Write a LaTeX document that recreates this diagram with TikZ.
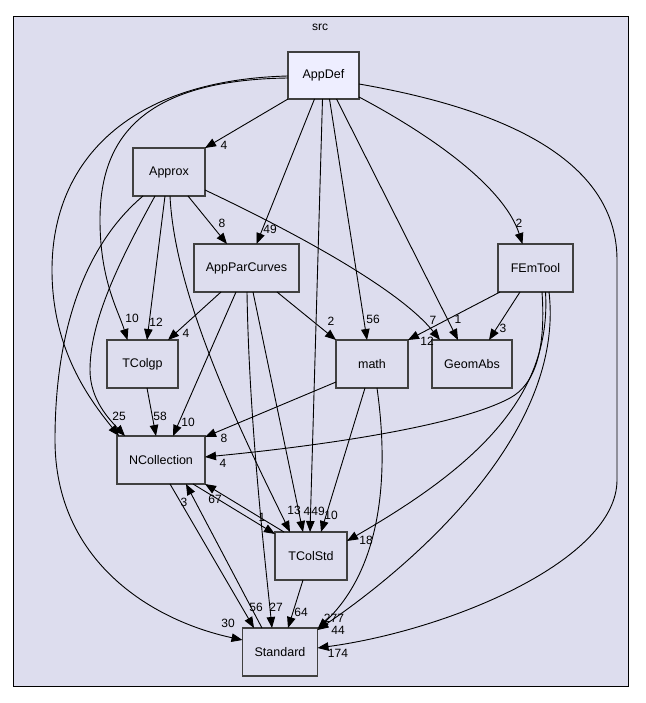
\documentclass[tikz,border=0pt]{standalone}
\usepackage{fontspec}
\setmainfont{Liberation Sans}
\usetikzlibrary{arrows.meta}
\definecolor{clusterbg}{HTML}{DDDDEE}
\definecolor{mainbg}{HTML}{EEEEFF}
\definecolor{boxline}{HTML}{404040}

\begin{document}
\begin{tikzpicture}[x=1pt, y=-1pt,
  dirbox/.style={rectangle, draw=boxline, line width=1.6pt, fill=clusterbg, minimum height=48pt, inner sep=0pt, outer sep=0pt, font=\fontsize{12.5}{15}\selectfont},
  dep/.style={draw=black, line width=0.9pt, -{Triangle[length=11pt,width=8.5pt]}},
  lbl/.style={inner sep=0pt, font=\fontsize{12}{13}\selectfont}]
\useasboundingbox[fill=white] (0,0) rectangle (645,703);
\draw[fill=clusterbg, draw=black, line width=0.8pt] (13.5,16.5) rectangle (628.5,686.5);
\node[lbl] (srclbl) at (320,27) {src};

\node[dirbox, fill=mainbg, minimum width=71pt, minimum height=47pt] (AppDef) at (323.5,75.5) {AppDef};
\node[dirbox, minimum width=72pt] (Approx) at (169,172) {Approx};
\node[dirbox, minimum width=105pt] (AppParCurves) at (246.5,268) {AppParCurves};
\node[dirbox, minimum width=75pt] (FEmTool) at (535.5,268) {FEmTool};
\node[dirbox, minimum width=71pt] (TColgp) at (142.5,364) {TColgp};
\node[dirbox, minimum width=72pt] (math) at (372,364) {math};
\node[dirbox, minimum width=80pt] (GeomAbs) at (472,364) {GeomAbs};
\node[dirbox, minimum width=88pt] (NCollection) at (161,460) {NCollection};
\node[dirbox, minimum width=72pt] (TColStd) at (311,556) {TColStd};
\node[dirbox, minimum width=75pt] (Standard) at (280,652) {Standard};

\draw[dep] (AppDef.south west) -- (Approx.north east) node[lbl] (AppDef-Approx) at (224,145) {4};
\draw[dep] ([xshift=-9]AppDef.south) -- ([xshift=10]AppParCurves.north) node[lbl] (AppDef-AppParCurves) at (270,229) {49};
\draw[dep] ([xshift=-1]AppDef.south) -- ([xshift=-1]TColStd.north) node[lbl] (AppDef-TColStd) at (318,511) {49};
\draw[dep] ([xshift=6]AppDef.south) -- ([xshift=-5]math.north) node[lbl] (AppDef-math) at (373,319) {56};
\draw[dep] ([xshift=13]AppDef.south) -- ([xshift=-14]GeomAbs.north) node[lbl] (AppDef-GeomAbs) at (458,319) {1};
\draw[dep] ([yshift=2]AppDef.south east) .. controls (440,140) and (505,190) .. ([xshift=-13]FEmTool.north) node[lbl] (AppDef-FEmTool) at (519,223) {2};
\draw[dep] ([yshift=-8.5]AppDef.east) .. controls (480,105) and (617,150) .. (617,260) -- (617,480) .. controls (617,560) and (450,630) .. ([yshift=4]Standard.east) node[lbl] (AppDef-Standard) at (338,653) {174};
\draw[dep] ([yshift=-2.5]AppDef.west) .. controls (140,80) and (100,140) .. (100,220) .. controls (100,280) and (118,310) .. ([xshift=-15]TColgp.north) node[lbl] (AppDef-TColgp) at (132,318) {10};
\draw[dep] ([yshift=-0.5]AppDef.west) .. controls (130,80) and (52,160) .. (52,270) .. controls (52,350) and (90,400) .. ([xshift=-42]NCollection.north) node[lbl] (AppDef-NCollection) at (119,416) {25};

\draw[dep] ([xshift=-26]Approx.south) .. controls (85,245) and (55,330) .. (55,440) .. controls (55,560) and (150,620) .. ([yshift=12]Standard.west) node[lbl] (Approx-Standard) at (228,623) {30};
\draw[dep] ([xshift=-14]Approx.south) .. controls (120,260) and (90,320) .. (90,370) .. controls (90,400) and (110,420) .. ([xshift=-36]NCollection.north);
\draw[dep] ([xshift=-4]Approx.south) -- ([xshift=4.5]TColgp.north) node[lbl] (Approx-TColgp) at (156,322) {12};
\draw[dep] ([xshift=1]Approx.south) .. controls (175,300) and (245,440) .. ([xshift=-21]TColStd.north) node[lbl] (Approx-TColStd) at (294,510) {13};
\draw[dep] ([xshift=19]Approx.south) -- ([xshift=-19.5]AppParCurves.north) node[lbl] (Approx-AppParCurves) at (222,223) {8};
\draw[dep] ([yshift=-18]Approx.east) .. controls (300,235) and (400,290) .. ([xshift=-32]GeomAbs.north) node[lbl] (Approx-GeomAbs) at (433,320) {7};

\draw[dep] ([xshift=-25.5]AppParCurves.south) -- ([xshift=25.5]TColgp.north) node[lbl] (AppParCurves-TColgp) at (186,333) {4};
\draw[dep] ([xshift=-10.5]AppParCurves.south) -- ([xshift=12]NCollection.north) node[lbl] (AppParCurves-NCollection) at (188,422) {10};
\draw[dep] ([xshift=0.5]AppParCurves.south) .. controls (249,420) and (265,560) .. ([xshift=-8]Standard.north) node[lbl] (AppParCurves-Standard) at (276,607) {27};
\draw[dep] ([xshift=6.5]AppParCurves.south) -- ([xshift=-8]TColStd.north) node[lbl] (AppParCurves-TColStd) at (307,511) {4};
\draw[dep] ([xshift=30.5]AppParCurves.south) -- (math.north west) node[lbl] (AppParCurves-math) at (331,321) {2};

\draw[dep] ([xshift=2]FEmTool.south west) -- (math.north east) node[lbl] (FEmTool-math) at (427,341) {12};
\draw[dep] ([xshift=-15.5]FEmTool.south) -- ([xshift=17]GeomAbs.north) node[lbl] (FEmTool-GeomAbs) at (503,328) {3};
\draw[dep] ([xshift=6.5]FEmTool.south) .. controls (546,350) and (535,384.5) .. (510,398) .. controls (460,425) and (330,445) .. ([yshift=3]NCollection.east) node[lbl] (FEmTool-NCollection) at (223,463) {4};
\draw[dep] ([xshift=10]FEmTool.south) .. controls (552,400) and (470,470) .. ([yshift=15]TColStd.east) node[lbl] (FEmTool-TColStd) at (366,540) {18};
\draw[dep] ([xshift=13.5]FEmTool.south) .. controls (565,430) and (420,560) .. ([yshift=-2]Standard.north east) node[lbl] (FEmTool-Standard) at (338,630) {44};

\draw[dep] ([yshift=-18]math.west) -- ([yshift=-1]NCollection.north east) node[lbl] (math-NCollection) at (224,438) {8};
\draw[dep] ([xshift=-7]math.south) -- ([xshift=10]TColStd.north) node[lbl] (math-TColStd) at (331,515) {10};
\draw[dep] ([xshift=5]math.south) .. controls (390,480) and (380,570) .. ([yshift=-1]Standard.north east) node[lbl] (math-Standard) at (334,618) {277};

\draw[dep] ([xshift=4.5]TColgp.south) -- ([xshift=-5]NCollection.north) node[lbl] (TColgp-NCollection) at (160,416) {58};
\draw[dep] ([xshift=9]NCollection.south) -- ([xshift=-26]Standard.north) node[lbl] (NCollection-Standard) at (256,607) {56};
\draw[dep] ([xshift=32]NCollection.south) -- ([yshift=-2]TColStd.north west) node[lbl] (NCollection-TColStd) at (262,517) {1};
\draw[dep] ([xshift=-18]Standard.north) -- ([xshift=25]NCollection.south) node[lbl] (Standard-NCollection) at (184,502) {3};
\draw[dep] ([xshift=-27]TColStd.north) -- (NCollection.south east) node[lbl] (TColStd-NCollection) at (215,499) {67};
\draw[dep] ([xshift=-8]TColStd.south) -- ([xshift=8]Standard.north) node[lbl] (TColStd-Standard) at (301,612) {64};
\end{tikzpicture}
\end{document}
